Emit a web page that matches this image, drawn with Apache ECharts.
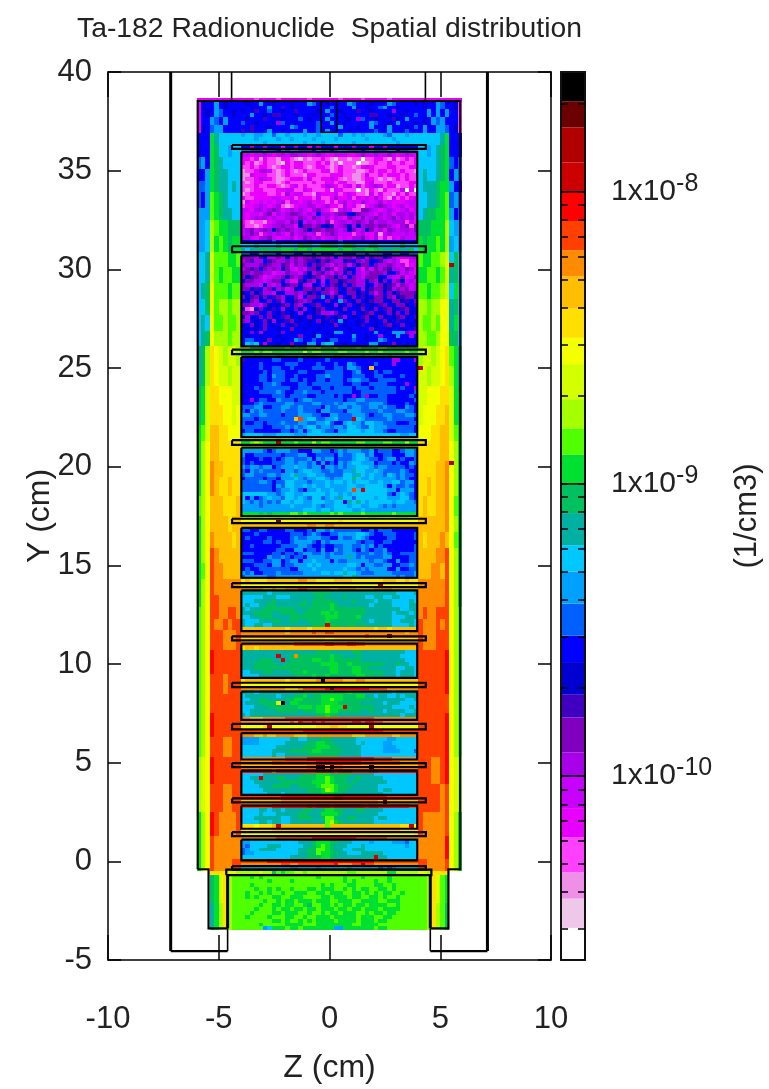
<!DOCTYPE html>
<html><head><meta charset="utf-8"><style>html,body{margin:0;padding:0;background:#fff}#c{width:769px;height:1089px}</style>
<script src="https://cdn.jsdelivr.net/npm/echarts@6/dist/echarts.min.js"></script></head><body><div id="c"></div>
<script>
const titleText = 'Ta-182 Radionuclide  Spatial distribution';
const levelKeys = 'abcdefghijklmnopqrstuvwxyzABCD';
const levelColors = ['#ffffff','#eec8e8','#ee90e8','#ff40ff','#e800ff','#c800ff','#a800e8','#8000c0','#4000c0','#0000d0','#0000ff','#0060ff','#00a0ff','#00c8ff','#00b0a0','#00c060','#00e030','#50ff00','#a4ff00','#d4ff00','#f4ff00','#ffe000','#ffbf00','#ff8c00','#ff4000','#ff0000','#cc0000','#b00000','#6a0000','#000000'];
// colour band edges, log10(1/cm3)
const levelEdges = [-10.63,-10.52,-10.42,-10.33,-10.21,-10.11,-10,-9.92,-9.80,-9.72,-9.61,-9.52,-9.41,-9.30,-9.21,-9.10,-9,-8.90,-8.81,-8.71,-8.59,-8.50,-8.40,-8.29,-8.20,-8.10,-8,-7.90,-7.78,-7.69,-7.59];
const barTickValues = [3e-11,4e-11,5e-11,6e-11,7e-11,8e-11,9e-11,2e-10,3e-10,4e-10,5e-10,6e-10,7e-10,8e-10,9e-10,2e-9,3e-9,4e-9,5e-9,6e-9,7e-9,8e-9,9e-9,2e-8];
const barDecades = [-10,-9,-8];
// [row count, z -6..-4, z 4..6]
const wallBands = [
[1,'eeeeeeeeee','eeeeeeeeee'],
[2,'ejkkmkjkkk','kjkkmlkkjd'],[2,'ekjkmlkkjk','kkmkmkmkkd'],[2,'ekkmlkmkkk','kjkmlmkkkd'],[2,'ejklmmkkkk','kmkkmmlkjd'],
[3,'kkkqonnnnn','nnnnnoqkkk'],
[3,'kkkqpnnmnn','nnmnopqkkk'],[3,'lmkqponnnn','nnnnopqlkl'],[3,'kkmqpoonnn','nonnopqkml'],
[3,'llmqpoonon','nooopqqmkk'],[4,'lkmrqponnn','nnoopqrlml'],[3,'mmmrqpoonn','noppqqrmkl'],
[4,'mmnsrqqppp','pppqqqsnmm'],[4,'mmnsqrqpqq','qpqqrqsmnm'],
[4,'nnotrrrqqr','rqqrrstnpn'],[4,'nnotrqrrqq','qqrrqrtopn'],[4,'nopurrrqrr','rrqrrstnqn'],
[4,'nnpurssrss','ssrssuuopn'],[4,'nonurrsrrs','srrsruuoqn'],[4,'nopusssrss','ssrrsuuppn'],
[5,'opsvutstts','sttstuvrqo'],[5,'opsvuttstt','ttsttuvsqo'],
[5,'pqtvvuuutt','ttuuuvvtqp'],[5,'pqtvvvuutu','tuuuvvwtqp'],[4,'qrtwwvvuuu','uuuvvwwtrq'],
[5,'qsuwwvvvvv','vvvvvwwusq'],[4,'qsuxwwvvvv','vvvvwwxusq'],
[5,'qsuxwvvwvv','vvwvwwxusq'],[5,'rsuwwwvvvw','vwvvwwxurq'],
[4,'qsuwwwwvww','wwwwwwxusq'],[4,'qsuxwwwwvw','wvwwwxwurq'],
[4,'qsuyxwwwww','wwwwxxyusq'],[4,'qruyxxwwww','wwwxxwyusq'],
[4,'qsuyxxxxxx','xxxxxxyusq'],[3,'qsuyyxxxxx','xxxxxxyusq'],
[3,'rsuyyxxyyx','xyxxyyyusr'],[3,'rsuyxxyxyy','yxxxyxyusr'],
[5,'rsuyyyxxxy','yxxxyyyusr'],
[6,'rsuzyyyyyy','yyyyyyzusr'],[5,'rsuyyyxyyy','yyyyyyzusr'],
[5,'rsuyyyyyyy','yyyyyyyusr'],[6,'rsuzyyyyyy','yyyyyyzusr'],
[5,'rsuyyyxxyy','yyyyyyzusr'],
[7,'stuzyyyyyy','yyyxxyzuts'],[7,'stuyyyxxyy','yyyyyxyuts'],
[6,'qsuzyxxxxy','yxxxxxyusq'],[6,'qsuyxxxxxx','xxxxxxzusq'],
[3,'qsuyxxxxyy','yyxxxxyusq'],[1,'aaavvvvtts','ttsvvvvaaa'],[7,'aaapqtvsrr','rrsvtrqaaa'],[7,'aaaoqsvsrr','rrsvsrpaaa']];
// z -4..4, top row first, 0.2 cm cells
const centreRows = [
'eeedeeeedeeeeeedeeeeeedeeeedeeeeedeeeeee','kjkkmkkjkkkjkkkmlkkjkkkkmlkkkjkkkmlkkkkj','kkjkkkmkkikjkkkkjkkklkkkkmkkjkklmkkjkkkk','jkkikklkkjkkikkkkjkmkkjkkkikkjkkkkgkkjkk','kkmkkjkiikkkjkkkjkkklkkjkkkkkiikkjkkjkkl','kjkkkikkkjkkklkjkkkmkkkkjkglkkjkkkijkmkk','lkkjkkkjglkkjkkkklkkmkkjkkkkkmlkkjkmkkkj','kkikkkjkkkkmlkkkklkkkkmkkkjkkmkkjmkkkjkl','ikikkkmkkjkkkkmkklkmkkkkjkkkkklkkmkkklkk',
'mnnmmnnlnnmnnnmnnmnnnnlnnmnmnnnnmlnnnmnn','nnnmnnnnmnnmnnnnmnnnnmnnnnnnmnnnnnmnnnnn','nnnnnmnnnnnnnnmnnnmnnnnnnmnnnnnnnnnmnnnn','kkgkkgkkkekkgkkekgkkkekkkgkkkekkgkkkkkkk','mmlllmllkmlmmlllkmllklmmlllklmlllmmkllmm',
'ffeffgfefgfggffefgfeefffeefgffgffgfefgfe','eedeceddceedcbdcddedcbddcddaddeedcecdede','edecdeddcbedeedddedecdbdddaccdeddeddedde','ddedeedcdeedeedcdeedcdeddcdefedddeedddee','cddeggfdcdedcdedddeecdedddccdedeedededdc','ccfeeeddcdedddceedddeeeddccdfddedeeededd','cddegfedccdeeedfddeefedcdccdeedcdcdededd','dcdeedddcdedddddeddeedeeddccefdddeddddee','dddeddeedcdefdedddegfedefdfdefgfdeecdded','dcdeedddeeffddfedddecfedddadcedcedddfaea','cdeeeeddedgeffddcfeeefdefeddcfdfddcedfdd','eddeeeeffeefdeeedfddegeefdfefegedcfdedef','cfeefefefgdffefgefedfdfgefegfefgefeeefff','deefgfefgdcdeffggefgeedgefdcefghgfefgeff','ffeggfghgefgfgfeghfedcfgfddhhgfefgfefgef','feffeghegfghhgfgfkggfghhkjhggfegfgeggfgf','fefgggfgffggfhgfhgfgegfehgfhfghgfghfgfge','edcddcefggfhgjfgfgfhdfggfghgfhfggfgggdfe','fddcdefgghggejhhghjjifghjgjghhghhgfeghdh','fghfghgjhghgfghjhhghhgfgjhfgjhfgehgfggfh','fghgdfgfgfehfggfgdfghgfffdfgeegcfgfffgfg','ggfegghfeffgefhgfgeffgefegghfegdfdfegfff','kjkkkjklkkjkkkkjkkkkjklkkkkkkkjkkkkkjkkk',
'nnnonnnnonnnnpoonnppoonpponnnoonnnnnonnn','onoopppppqqqpqqpqqqqqqpqqpppqqppooppoopn','llkkmlllklllkkllklkkkllkkkllklllkkllkkll',
'hhhgijgghgjghghhihghgkghhgikgihhjigfffgg','ghiggkihgghghghiijhihggjikhghjkigfgfddff','hggghihggihfhghkhihgfhghfhjhhkhgghgfgdef','ghihkhghgjhfegfhhjgihegijkgehfhghiggfhge','hhghhggeffhggfhjghigfhgjhkgfghhhgjkhfgfe','hjihgefgghjhghkjihfhhjhgkhgfhhhjkgffhefh','jhhggfghhkgeeijhgjfkhhjihhggjhgjhkghjfgf','hgggfjgfgjihhjgfjkgkhijhkhggjkghjihfhgfg','hhjikghjghfgjkhhihjhghkjhikgjihhjighghfg','jkhjiggfjkgghghjikhhfhjkhhjikhfhkhjihhhi','hjihjhkihgjkhfkhhimkhjgkjhkijkhhjhgjihhj','kjhgjkhkigkjihghjkkhjkmhkjhkjihhkjhhjikh','hhggfhjkjihkhgjkihkjkgjkhkjikjkihkjhhjki','jdcjhkjikgjkhjgkjihkjkjhkkjhkjhkihjkihjk','hhghjkhkjikjkgjkjiggfhkjkhkjihkjkhjhkhjk','jgjkhkhjkihjkjkhjkjikjigkjkihjkhjkjihjki','hgkjkhjgjkihkjkjkhjkikmjkkjkhkjkhjkikjkj','jkhjkhkjkhkjikkjkkjkjhkjkkjikkjkihjkhkjk','kjkjkhkkjkkhkkjkkjkkkjkkjkkkkhjkkjkkjkki','kkhkgjkkkhkjkkkkjkkjkmmkkjkkkkmkjkmmmhgg','kjkkjkkkjkkkkhkkjmkkjkkkkmkkjkkgkkjmkkgk','kllkkjhkkjkkmlkklkkjllkkklkkjkkmlkkjkkkk','knmnkgkkjkkhkkjmmkmnnkkjkkkkkmmkjkhkkjkk',
'ssqqqqqqqqrqqqqrrsqqqrqqqqrqqqqrrqqqqqqq','qqqrqrrqqqqqqqsqrrqqqqrrqqqqrqqrqqqqqrqq','nnnoonnnoonnnnpponnnnppnnnnonnnnnonnnnnn',
'ikkkkkkllkkkklkkkkklkkkkkkkkkkkkkkggkkkg','kkkklkkkkklllkkkklkkklkkmlkkkklkkkgkkkkk','kkkklkkllkklkkkklllkkllkmmlkkkkkkkkkkkkk','kkkkklklllkkkllkkkkllllkklmkkklkllkkkkkk','kkkkllkmllkklkkkkllmlllkklllkkllkkkklkkk','kkkkllklllkllklkkllklllklmmllkkllllkkkkk','kkkkkllmlkkkkllklllllllkkllkkllllkkkkgkk','kkklkllllllkklllkkllkllllklllklllllklkkg','kkkkllllmlkkllmlllkllllllkkllllllllkkkkl','kkkkkkklllkllllkkllllklkkgklgkkllkkkkklk','kkgkllkkmlllklmmlllllllkllmmlllllkkkkkkl','kkklmlllllmmllllmmlllmlmmmlllmmmlkkkklkk','lllmmkkllmmllmllllkmllmmlmmllmmlmllkkmlk','lkmlmllllmlllmlllkmmlllkmmmllllmlllmmllk','mmllmmlllklllmmmllkkmmlllmmmlkllmmlllmml','lllklllllllllmmnnllmmnlllmnmlllllmlllllk','lkkllklllmlllmmllmmnlkkmnmmlnnmmlllkkkll','lllllkklllmlmlmnnlmmlmmlnnmllnmmmllllllk','kllkkkkkkllklmkmnnmllkmmnnnmnnmmlkkllllk','mnnnnmmmnnnnmmmnnnnnnnnnnnnnnnnnnnnnmmnn',
'ttutuuttsttuttutuuuttuuutuuutttutuuuttuu','qqrsrqqqsqqqrqqqsqrrqqqqqqrrqqqqrrqqqsqq','sssttsrrsrssssttsssrsssttsssrrstssssrsss',
'mmmmmlklmmmllkkkmmllklmlmmmllmklllkklmml','mkkllllllklllmmkkllllkmllmnnlmkkllkkkmml','lkkklkklklmmlllmkmlmmklllmnnmllklmmklkkl','lklkkkklllmmlmmlmkmklkmlmnnmmmklllklkkml','mlmmlmmklmmmnmmlmmkmmlmlmmnnnmlmmllllklk','lkmlmllllkmmlmnnmmllmllmmonnmmnmllllmlkk','lmmlllmmlmmnommnnmmllllnnmonmnmmlnmlmllk','kllllkllkmmmnmlmmnnmlmmnnpnmmnmmmmmlmlkk','llllmmlkllnnmmmlmmmnmnnmnmnnnmmnmmnnlmmk','lllllllkmlnnmmnmnmmnmmmmnnmmnnnnmkmllmlk','lllllllklmmnmlkmmnmmnmmmnnnmnnnnnmmkmmmk','nnnnnnmmlmnnmmnnnnnmnnmnmnnnnnnnnlkmnmlk','nkmklmnmmlnnmnmlnnlmnmonnlnnnnmnnmmmnnlk','nmlmlmlmlnnmnnmmnnnmmnnkononmnnnnnmnnmml','mmmmlmmmmmmnmmmmnmlmmnnnmnnmmnnmlmlmmmmm','mmmmmmmmmmmmmmnnnmnnmnnnnmmnmmmmmmmmmmmm','qqqqpqpqqqqrrqrqqqqqrqrqqqqrqqqqqqrqqqqq',
'ssssstttstttsttttttttttttttttssttttssstt','uuuuuuuuuuuuuuuuuuuuuuvuuuuuuuuuuuuuuuuu','wwwwwwwwwwwwwwwxxwwxxwwwwwwwwwwwwwwwwwww',
'llkkllkkkkllkkklkmmlmllllllkklklllkkkkkk','kkklkkkkkkklllklmlkkllmmmmnnmlkklllkkkkl','klkkkklkkkklmllmmmllkkmllmnmlkkkkllkkkkl','kkkkkllklkklmmmmlkmlmmmmmmlkllkkllkkkkkk','kklkkkkkkllllmmlkklkkllmmllmlmklkkkkkkkl','kkkkkkkkllkkmmkllkmkkmlmmlkmlkllmkkkkkkl','lllkkkkllkllklmmllmlmllmmmlllmllmlkkllll','kkkkkkmllmlkllkmmmmlmmmmomlmllllmmkkkkll','lllkkllmmklmmkmmnmmmkmllmmmmmlmmlkkmkkll','kkklllkmmkllmmmnmnmmmmmmnnmkmmllmmkkllml','klkklllllllkkmmmnmmmmmmnmmlmlmmmmkkmkkll','mlmkklllmlllllmmmmnnmnnonnmlllmmmmlllllm','lmmmmmllmmmmmmmmmmmmmmmnnpmmmmmmmmmlmllm',
'vwvvvvwwwwwwwxxwwvvvvwwwwvvvvvvvwwwvvwvv','uuuuuuuuuuuuuuuuuuuuuuuuuuuuuuuuuuuuuuuu','xxxxxwwxwwxxxyyxxxxxwwxxxxwwwwxxxxwwwwww',
'oooooonoooooooooppppooooooooooooooonnnno','nnnnnooonnnooooooppoooopoooonnoonnoonnnno','nnnoooopoooooopopppppoooopoooonooonnnnon','nonnooppoooooppoppppqpooooooonoooonnnnoo','onooopppppppooopppppqpppppppoooooooonnoo','oooppppooppppoppppqqpqppppppoooooonooono','nnoopppooooppppppppqqqppppqooooooonnnooo','onnnoooppooppooppppqpppppppoonoooonnooon','onnoonnooooooooopppqpppoppopoooooonnnnon','wwwwwwwwwwvwwwwvwwwwwwwwwwwwwwvwwvwwwwww',
'xxxxxxxxxxwxxxxxyxxyyxxxxxxxxxxxxxxxxwxx','xxxxxxxxxxxxxxxxxxxxxxxxxxxxyxxxxxxxxxxx','vvvvvvvvvvvvvvvvvvvuuvvvvvvvvvvvvvvvvvvv','xxxxxxxxxxxxyyyyyyyzzyyyzzyyxxxxxxxxxxxx',
'vwwvwwwwwwwwwwwwwwwwwwwwwwwwwwwwwwwwwwww','ooooooooooooooooopppoooooppoooooooooonnn','ooooooooooopppppppppqppooopooooooooonnnn','oooopppoooopppppqqppqppppppoooooooooonnn','ooopppppooppppppppqqqqppqpppppppooopoonn','ooopppppppppppppppppqqpppqqppoooooonnoon','nnoooppoooopppqpppppqqpppqqpppppooonooon','nnnnooooooooppppqppqppppppqqppopooonooon','vwwwwwwwwwvwwwwwwxxxxxxwwwxxwwwwwwwwwwww',
'uuuuuuuuuuuuuuuuuuuuuuuuuuuuuuuuuuuuuuuu','xxxxxxxxxxwwwxyyyyyzzzzzzzzzzyyyyxxxxxxx',
'ooonooooooooooppppopppppqppooooooonooooo','nooooooonoooppqoppqqqqqpppqqoonoonnonooo','nnooppooooppqqppppqqrqqpppppppooooooonno','noooppppoooqqpppppqqqqpppppooooonooonnnn','nnnooopppppppqqqpqqrqqqqppppppoooonnnnon','nnoooooopppppopppqqrqqpppppoopoonoooonno','onoooooooooooooooppqppoooooooooooooonooo','xxwwwxxxxxyyyyyyyyyyyyyyyyyyyyxxxxxxxxxx',
'xxxxxxxxxxxyxzyyzyzyyyyyyzzyzzyyxxxxxxxx','uuuuuvuuuuuuuuuuuvvvwwvvuuuuuuuuuuuuuuuu','yyyyyyyyyyyyyyzzzzzzzzzzzzzzzzzzyyyyyyyy',
'xxxwwxwwxxxxwwwxxxxxxxxxxwwwxxxxxxwwxxxx','mmmmnnnnnnnoonnoooppoooooonnnnnnnmmnnnnn','mmmmnnnnnnoooooppqqppooooononnnnmmnnnnnn','nnnnnnnnoooooopppqqqppooooonnnnnmmmnnnnn','nnnnnnnoooopppppqqpppppoooonnnnnmmmmnnnl','nnnnnnnonnooooopppppppooooonnnnnnnnnnnnn','xxxxxxxxxxyyyyyzzzzzzzzzzzzzzzyyyyxxxxxx',
'xxxxxxxyyyyyyyyyyzzzzzzzzzzyyyyyyyyyxxxx','wwwwwwwwwwwwwwwxxxwwwxxwwwwwwwwwwwwwwwww','zzzzzzzyzzzzzzzzzAAAAzAAAzzzzAAzzzzzzzzz',
'nnnnnooooooooopppqqqpppppooooonnnnnnnnnn','nnoonoooppoooppppqqrqpppoopooooonnnnnnnn','nnnoooooopppppppqqqrqpppopooooooonnnnnnn','nnnnoooppppooppppqrrrqpppoooooonnnnnnnnn','nnnnnoooooooooopppqsrqppooooooonoonnnnnn','nnnnnnooonooooopppqqqppooooooooonnnnnnnn','yyyyyyyyyzzzzzzzzzzzzAAzzzzzzzzzzyyyyyyy',
'wwwwwwwwwxxxxxxxxxxxxxxxxxxxxxxwwwwwwwww','yyyyyyyzzzzzzzzAzAAAzAAAAAAAzAAzzzzzzzyy',
'nnnnoonoonooooppoopqqppoooppoooonnnnnnnn','nnnnonnnoooooppoooqqqqpoooooooonnnnnnnnn','nnnoooooonnoopppooprrpooppoooonoonnnnnnn','nnnnoonoonnoooooooorsqpooooooonnnnnnnnnn','vvvuvvvwwwwwwwwwwwwrwwwwwwwwwwwwwwwwvvvu',
'vvvvvvvwwwwwwwwwwwwwwwwwwwwwwwwwwwwwvvvv','uuuuuuuuuuuuuuuuuuuuuuuuuuuuuuuuuuuuuuuv','xxxxxxxxyyyyyyyyzzzzzzzzzzyyyyyyyxxxxxxx',
'mmnnnnnnnnnnnooopqqqppooonnnnmnnnnmmmlnn','mlnnnnooonnnnnoopqrqpooonnnonnnnnnnnnmnn','lmnnoooonnnnnoopprrqpoonnooonnnnnnnnnnnn','lmmnnnnnnnnnnoopprqqppoonnnooooonnnnnnnn','nnnnnnnnnnnoooopppqqpoooooooooooonnnnnnn',
'yyyyyyzzzzzzzzzzzzzzzzzzzzzzzzyyyyyyyyyy','xxxxxxxxxyyxxyyyyyyyyzxxxyyyyyxxxxxxxxxx','nnnnnnnnnnnmmnnnnmnnnnnnmnnnnnnlmlmnnnnn','sssstssprqrrssrsssssssssrrsssssssqqsssss',
'rrqrqrrrrrrrrrrrrqrrrrrqrrrqrrrrrqrrrrrr','rrrrrrqrrrrqrrrrrrrrrrrqrqrrrrqrrqrrrrrr','rrqrrrrrrrrrrrrrrrqrqrrrqqrrrrqqrrqrrrrr','rrrqrrqrqrrqrrrqqrqqqrrqrqrqqrrqqrqrrrrr','rqrrqrqrrqrrqqqrrqqrqqqrrqqrqrqrqqrrqrrr','rqrqrrrqqrrqqqrrrrqqrqqqrqqrrqqrqrrqrrrr','rrrrrqrrqrqqrqqqrqqqrrqqqrrqqqqrrqqqrrrr','rrrrqrrqqrqqrrqprrqqrqrqqrqqrqqqqrrqrrrr','rrrqrrrqrqqrqqrqqrqqqrqqrqqrqqqrqqqqrrrr','rrqrrrrqqrqqqrrqrrqrqqrqqqrrqrqqrqqrrrrr','rqrrrrqrrrqqrrqrrqqqrqqqqqrqqqrrqqrrrrrr','rrrrrrrqqrqrrqrqrqqqqrqqqqrqqqrqqrrrrrrr','rrrrqrrrrrqqqqrrrqqqqqqqqrrqqqqrrrrrrrrr','rrrrrmnqqqrqqrqqqqqqqmmqqqqqqqrqqrrrrrrr'];
// isolated outliers [z, y, level]
const hotCells = [[5.45,30.25,'B'],[4.05,25.1,'A'],[1.85,25.1,'w'],[-1.55,22.4,'w'],[-1.35,22.4,'y'],[1.05,22.4,'A'],[-2.35,21.25,'B'],[5.45,20.3,'B'],[1.05,18.85,'y'],[1.45,18.85,'A'],[-2.35,17.3,'C'],[2.25,14.05,'B'],[-0.15,11.95,'A'],[2.65,11.35,'C'],[-2.35,10.45,'A'],[-2.15,10.15,'A'],[-1.55,10.45,'x'],[-0.35,9.25,'D'],[0.05,8.9,'C'],[-2.35,8.05,'t'],[-2.15,8.05,'D'],[0.65,7.75,'A'],[-2.75,6.85,'B'],[1.85,6.85,'B'],[-0.45,4.75,'D'],[-0.25,4.75,'D'],[0.15,4.75,'D'],[1.85,4.75,'D'],[-3.15,4.15,'A'],[-2.35,1.85,'A'],[3.65,1.85,'A'],[2.05,0.25,'A'],[1.45,-0.1,'B'],[2.45,3.0,'C']];
// geometry outlines in cm: [line width, [z,y]...]
const outlines = [
[3,[-7.17,40],[-7.17,-4.55]],[3,[7.13,40],[7.13,-4.55]],
[2.4,[-7.17,-4.55],[-4.6,-4.55]],[2.4,[7.13,-4.55],[4.55,-4.55]],
[1.6,[-4.6,-4.55],[-4.6,-3.4]],[1.6,[4.55,-4.55],[4.55,-3.4]],
[3,[-4.6,-3.4],[-4.6,-0.7]],[3,[4.55,-3.4],[4.55,-0.7]],
[2.2,[-5.95,-0.4],[-5.95,38.53],[5.9,38.53],[5.9,-0.4],[5.37,-0.4],[5.37,-3.4],[4.55,-3.4]],
[2.2,[-5.95,-0.4],[-5.46,-0.4],[-5.46,-3.4],[-4.6,-3.4]],
[1.6,[-4.42,40],[-4.42,38.53]],[1.6,[4.33,40],[4.33,38.53]],
[1.6,[-0.38,38.53],[-0.38,36.95],[0.32,36.95],[0.32,38.53]],
[2.2,[-4.66,-0.7],[-4.66,-0.42],[4.6,-0.42],[4.6,-0.7],[-4.66,-0.7]]];
const discBands = [[36.3,36.1],[31.17,30.87],[25.93,25.7],[21.34,21.1],[17.36,17.14],[14.1,13.9],[11.4,11.2],[9.05,8.83],[6.97,6.69],[4.98,4.77],[3.19,2.99],[1.48,1.28],[-0.24,-0.42]];
const panelBands = [[35.95,31.35],[30.7,26.1],[25.56,21.5],[20.96,17.5],[16.9,14.37],[13.73,11.67],[11.03,9.3],[8.6,7.17],[6.5,5.16],[4.6,3.37],[2.82,1.65],[1.1,0.05]];
const discZ = [-4.4,4.35], panelZ = [-3.98,3.96], cellSize = 0.2, zStart = -6, yStart = 38.7;

const lvl = ch => levelKeys.indexOf(ch);
const walls = [];
wallBands.forEach(b => { for (let i = 0; i < b[0]; i++) walls.push([b[1], b[2]]); });
const grid = centreRows.map((c, r) => {
  const w = walls[r] || ['aaaaaaaaaa','aaaaaaaaaa'];
  const mid = c.slice(0, 40).padEnd(40, c[c.length - 1]);
  return (w[0] + mid + w[1]).split('').map(lvl);
});
hotCells.forEach(h => {
  const col = Math.floor((h[0] - zStart) / cellSize), row = Math.floor((yStart - h[1]) / cellSize);
  if (grid[row]) grid[row][col] = lvl(h[2]);
});
const cells = [];
grid.forEach((row, r) => row.forEach((v, c) => { if (v > 0) cells.push([zStart + c * cellSize, yStart - r * cellSize, v]); }));
const rect = (z, b) => [2.2, [z[0], b[0]], [z[1], b[0]], [z[1], b[1]], [z[0], b[1]], [z[0], b[0]]];
const allLines = outlines.concat(discBands.map(b => rect(discZ, b)), panelBands.map(b => rect(panelZ, b)));
const barCells = levelColors.map((c, i) => [levelEdges[i], levelEdges[i + 1], i]);
const F = 'Liberation Sans';
const hideAxis = {axisLabel:{show:false},axisTick:{show:false},splitLine:{show:false}};
const frame = {show:true,onZero:false,lineStyle:{color:'#000',width:1.5}};
const barFrame = {show:true,onZero:false,lineStyle:{color:'#111',width:2}};
const mainX = {type:'value',min:-10,max:10,interval:5,gridIndex:0,axisLine:frame,splitLine:{show:false}};
const mainY = {type:'value',min:-5,max:40,interval:5,gridIndex:0,axisLine:frame,splitLine:{show:false}};
const tickVals = barTickValues.map(Math.log10).concat(barDecades);
const chart = echarts.init(document.getElementById('c'), null, {renderer:'canvas'});
chart.setOption({
  animation:false, backgroundColor:'#fff',
  title:{text:titleText,left:72,top:10,textStyle:{fontFamily:F,fontWeight:'normal',fontSize:28.3,color:'#222'}},
  grid:[{left:108,top:72,width:443,height:888},{left:561,top:72,width:24,height:888}],
  xAxis:[
    Object.assign({},mainX,{position:'bottom',name:'Z (cm)',nameLocation:'middle',nameGap:92,nameTextStyle:{fontFamily:F,fontSize:32,color:'#222'},
      axisTick:{inside:true,length:25,lineStyle:{color:'#000',width:1.5}},axisLabel:{margin:44,fontFamily:F,fontSize:31,color:'#222',showMinLabel:true,showMaxLabel:true}}),
    Object.assign({},mainX,{position:'top',axisTick:{inside:true,length:25,lineStyle:{color:'#000',width:1.5}},axisLabel:{show:false}}),
    {type:'value',min:0,max:1,gridIndex:1,position:'bottom',z:5,axisLine:barFrame,...hideAxis},
    {type:'value',min:0,max:1,gridIndex:1,position:'top',z:5,axisLine:barFrame,...hideAxis}],
  yAxis:[
    Object.assign({},mainY,{position:'left',name:'Y (cm)',nameLocation:'middle',nameGap:52,nameMoveOverlap:false,nameTextStyle:{fontFamily:F,fontSize:32,color:'#222'},
      axisTick:{inside:true,length:13,lineStyle:{color:'#000',width:1.5}},axisLabel:{margin:16,fontFamily:F,fontSize:31,color:'#222'}}),
    Object.assign({},mainY,{position:'right',axisTick:{inside:true,length:13,lineStyle:{color:'#000',width:1.5}},axisLabel:{show:false}}),
    {type:'value',min:levelEdges[0],max:levelEdges[30],gridIndex:1,position:'left',z:5,axisLine:barFrame,splitLine:{show:false},axisLabel:{show:false},
      axisTick:{inside:true,length:7,customValues:tickVals,lineStyle:{color:'#000',width:1.5}}},
    {type:'value',min:levelEdges[0],max:levelEdges[30],gridIndex:1,position:'right',z:5,axisLine:barFrame,splitLine:{show:false},
      name:'(1/cm3)',nameLocation:'middle',nameRotate:90,nameGap:147,nameTextStyle:{fontFamily:F,fontSize:31,color:'#222'},
      axisTick:{inside:true,length:7,customValues:tickVals,lineStyle:{color:'#000',width:1.5}},
      axisLabel:{margin:26,customValues:barDecades,formatter:v=>'{a|1x10}{b|'+v+'}',rich:{a:{fontFamily:F,fontSize:30,color:'#222'},b:{fontFamily:F,fontSize:25,color:'#222',padding:[0,0,16,0]}}}}],
  series:[
    {type:'custom',xAxisIndex:0,yAxisIndex:0,data:cells,progressive:0,silent:true,clip:true,encode:{x:0,y:1},z:2,
     renderItem:(p,api)=>{
       const a=api.coord([api.value(0),api.value(1)]),b=api.coord([api.value(0)+cellSize,api.value(1)-cellSize]);
       const x=Math.round(a[0]),y=Math.round(a[1]);
       return {type:'rect',shape:{x,y,width:Math.round(b[0])-x,height:Math.round(b[1])-y},style:{fill:levelColors[api.value(2)]}};
     }},
    {type:'custom',xAxisIndex:0,yAxisIndex:0,data:allLines.map((l,i)=>[0,0,i]),progressive:0,silent:true,clip:true,z:3,
     renderItem:(p,api)=>{
       const l=allLines[api.value(2)];
       return {type:'polyline',shape:{points:l.slice(1).map(q=>api.coord(q))},style:{fill:null,stroke:'#000',lineWidth:l[0],lineJoin:'miter'}};
     }},
    {type:'custom',xAxisIndex:2,yAxisIndex:2,data:barCells,silent:true,z:2,encode:{y:[0,1]},
     renderItem:(p,api)=>{
       const a=api.coord([0,api.value(1)]),b=api.coord([1,api.value(0)]);
       return {type:'rect',shape:{x:a[0],y:a[1],width:b[0]-a[0],height:b[1]-a[1]},style:{fill:levelColors[api.value(2)]}};
     }},
    {type:'custom',xAxisIndex:2,yAxisIndex:2,data:barDecades.map(d=>[d]),silent:true,z:3,encode:{y:0},
     renderItem:(p,api)=>{
       const a=api.coord([0,api.value(0)]),b=api.coord([1,api.value(0)]);
       return {type:'line',shape:{x1:a[0],y1:a[1],x2:b[0],y2:b[1]},style:{stroke:'#000',lineWidth:1.5}};
     }}
  ]
});
</script></body></html>
